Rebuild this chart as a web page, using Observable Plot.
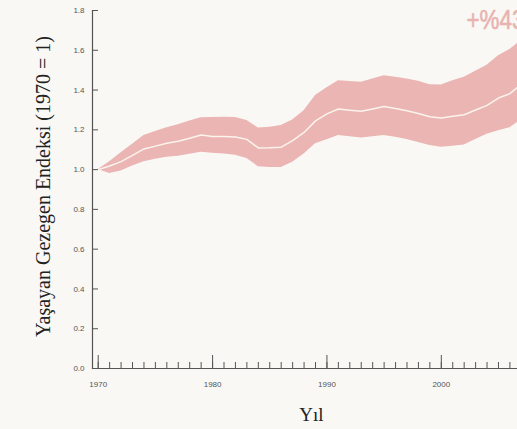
<!DOCTYPE html>
<html>
<head>
<meta charset="utf-8">
<script src="https://cdn.jsdelivr.net/npm/d3@7"></script>
<script src="https://cdn.jsdelivr.net/npm/@observablehq/plot@0.6"></script>
<style>
  html, body { margin: 0; padding: 0; background: #f9f8f4; overflow: hidden; }
</style>
</head>
<body>
<div id="chart"></div>
<script>
// Years and series values
const years = d3.range(1970, 2008);
const indexValues = [
  1.000, 1.018, 1.040, 1.072, 1.104, 1.118, 1.133, 1.143, 1.158, 1.174,
  1.167, 1.166, 1.164, 1.152, 1.109, 1.110, 1.113, 1.146, 1.187, 1.245,
  1.280, 1.305, 1.299, 1.293, 1.305, 1.317, 1.307, 1.296, 1.282, 1.266,
  1.260, 1.268, 1.276, 1.300, 1.323, 1.360, 1.382, 1.430
];
const lowerValues = [
  1.000, 0.981, 0.993, 1.018, 1.040, 1.052, 1.062, 1.067, 1.077, 1.087,
  1.082, 1.078, 1.072, 1.056, 1.015, 1.011, 1.010, 1.037, 1.078, 1.130,
  1.150, 1.171, 1.165, 1.159, 1.165, 1.171, 1.163, 1.152, 1.136, 1.121,
  1.113, 1.118, 1.124, 1.152, 1.178, 1.195, 1.210, 1.250
];
const upperValues = [
  1.000, 1.040, 1.085, 1.128, 1.171, 1.192, 1.210, 1.226, 1.245, 1.261,
  1.262, 1.263, 1.262, 1.247, 1.209, 1.213, 1.222, 1.250, 1.296, 1.372,
  1.412, 1.447, 1.443, 1.439, 1.455, 1.472, 1.465, 1.456, 1.444, 1.427,
  1.426, 1.447, 1.464, 1.495, 1.525, 1.572, 1.604, 1.650
];
const yTicks = [0, 0.2, 0.4, 0.6, 0.8, 1.0, 1.2, 1.4, 1.6, 1.8];
const xMajorTicks = [1970, 1980, 1990, 2000];
const xMinorTicks = d3.range(1970, 2008);
const yLabel = "Yaşayan Gezegen Endeksi (1970 = 1)";
const xLabel = "Yıl";
const changeLabel = "+%43";

const data = years.map((year, i) => ({
  year, index: indexValues[i], lower: lowerValues[i], upper: upperValues[i]
}));

const axisColor = "#555";
const bandColor = "#ebb5b3";

const chart = Plot.plot({
  width: 540,
  height: 429,
  marginLeft: 92,
  marginRight: 10,
  marginTop: 10,
  marginBottom: 61,
  style: {background: "#f9f8f4", maxWidth: "none", overflow: "visible", fontFamily: "'Liberation Sans', Arial, sans-serif"},
  x: {domain: [1969.5, 2007.8], axis: null},
  y: {domain: [0, 1.8], axis: null},
  marks: [
    Plot.areaY(data, {x: "year", y1: "lower", y2: "upper", fill: bandColor}),
    Plot.lineY(data, {x: "year", y: "index", stroke: "#fbf4ec", strokeWidth: 1.5}),
    Plot.frame({anchor: "left", stroke: axisColor, strokeWidth: 1.2}),
    Plot.frame({anchor: "bottom", stroke: axisColor, strokeWidth: 1.2}),
    Plot.axisY({ticks: yTicks, tickSize: -6, tickFormat: () => "", label: null, stroke: axisColor}),
    Plot.axisY({ticks: yTicks, tickSize: 0, tickPadding: 8, tickFormat: d3.format(".1f"), label: null, fontSize: 8, fill: axisColor}),
    Plot.axisX({ticks: xMinorTicks, tickSize: -6, tickFormat: () => "", label: null, stroke: axisColor}),
    Plot.axisX({ticks: xMajorTicks, tickSize: -13, tickFormat: () => "", label: null, stroke: axisColor}),
    Plot.axisX({ticks: xMajorTicks, tickSize: 0, tickPadding: 13, tickFormat: d => String(d), label: null, fontSize: 8, fill: axisColor}),
    Plot.text([yLabel], {frameAnchor: "left", textAnchor: "middle", lineAnchor: "middle", dx: -49, dy: -3, rotate: -90, fontSize: 20, fontFamily: "'Liberation Serif', 'Times New Roman', serif", fill: "#222"}),
    Plot.text([xLabel], {frameAnchor: "bottom", dy: 52, fontSize: 19, fontFamily: "'Liberation Serif', 'Times New Roman', serif", fill: "#222"}),
    Plot.text([changeLabel], {frameAnchor: "top-right", textAnchor: "start", lineAnchor: "top", dx: -64, dy: -1, fontSize: 28, fontFamily: "'Liberation Sans', Arial, sans-serif", fill: "#e9b3b0", stroke: "#e9b3b0", strokeWidth: 0.6, className: "change-label"})
  ]
});
// condense the headline number horizontally (no condensed font is installed)
chart.querySelectorAll(".change-label text").forEach(t => {
  const tr = t.getAttribute("transform") || "";
  t.setAttribute("transform", tr + " scale(0.8,1)");
});
document.getElementById("chart").appendChild(chart);
</script>
</body>
</html>
